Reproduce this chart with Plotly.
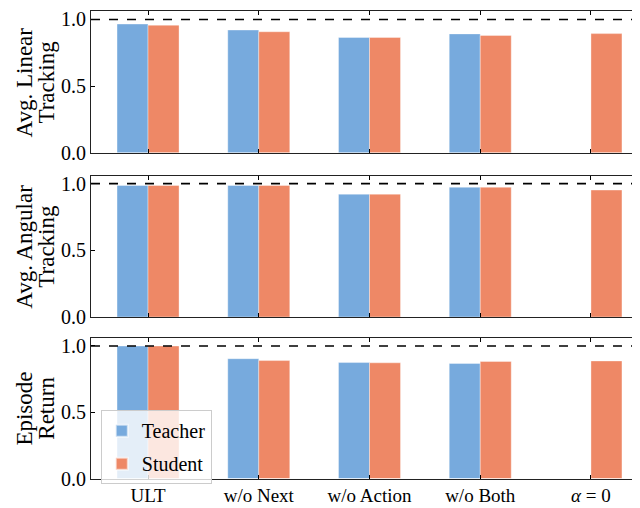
import plotly.graph_objects as go

# ---- data ----
categories = ["ULT", "w/o Next", "w/o Action", "w/o Both", "<i>α</i> = 0"]
series_names = ["Teacher", "Student"]

linear_teacher = [0.966, 0.921, 0.865, 0.892, None]
linear_student = [0.957, 0.908, 0.865, 0.880, 0.894]

angular_teacher = [0.986, 0.986, 0.921, 0.973, None]
angular_student = [0.986, 0.986, 0.921, 0.973, 0.952]

return_teacher = [1.000, 0.904, 0.875, 0.868, None]
return_student = [1.000, 0.890, 0.873, 0.883, 0.887]

panel_titles = [("Avg. Linear", "Tracking"),
                ("Avg. Angular", "Tracking"),
                ("Episode", "Return")]
y_ticks = [0.0, 0.5, 1.0]
y_tick_text = ["0.0", "0.5", "1.0"]
reference_level = 1.0

# ---- styling ----
colors = ["#77AADD", "#EE8866"]
FONT = "Liberation Serif"
x_domain = [0.1297, 0.9948]
y_domains = [[0.713, 0.999], [0.3806, 0.6667], [0.0535, 0.338]]

panels = [(linear_teacher, linear_student),
          (angular_teacher, angular_student),
          (return_teacher, return_student)]

fig = go.Figure()
for i, (teach, stud) in enumerate(panels):
    xa = "x" if i == 0 else f"x{i+1}"
    ya = "y" if i == 0 else f"y{i+1}"
    for name, vals, col in zip(series_names, (teach, stud), colors):
        fig.add_trace(go.Bar(
            x=categories, y=vals, name=name,
            marker=dict(color=col, line=dict(color="rgba(255,255,255,0.6)", width=0.6)),
            xaxis=xa, yaxis=ya, showlegend=(i == 2), legendgroup=name,
        ))
    fig.add_shape(type="line", xref=f"{xa} domain", yref=ya,
                  x0=0, x1=1, y0=reference_level, y1=reference_level,
                  line=dict(color="black", width=1.6, dash="dash"))
    yc = sum(y_domains[i]) / 2
    l1, l2 = panel_titles[i]
    fig.add_annotation(text=l1, xref="paper", yref="paper", x=0.0255, y=yc,
                       textangle=-90, showarrow=False, xanchor="center", yanchor="middle",
                       font=dict(family=FONT, size=23, color="black"))
    fig.add_annotation(text=l2, xref="paper", yref="paper", x=0.0600, y=yc,
                       textangle=-90, showarrow=False, xanchor="center", yanchor="middle",
                       font=dict(family=FONT, size=23, color="black"))

axis_common = dict(showline=True, mirror="ticks", linecolor="#222222", linewidth=1,
                   ticks="inside", ticklen=4, tickwidth=1, tickcolor="black",
                   showgrid=False, zeroline=False,
                   tickfont=dict(family=FONT, size=20, color="black"))

layout = dict(
    width=640, height=508,
    margin=dict(l=0, r=0, t=0, b=0),
    paper_bgcolor="white", plot_bgcolor="white",
    barmode="group", bargap=0.44, bargroupgap=0.0,
    font=dict(family=FONT, color="black"),
    legend=dict(x=0.145, y=0.192, xanchor="left", yanchor="top",
                bgcolor="rgba(255,255,255,0.8)", bordercolor="#cccccc", borderwidth=1,
                font=dict(family=FONT, size=20, color="black"),
                itemsizing="constant", tracegroupgap=4),
)
for i in range(3):
    xk = "xaxis" if i == 0 else f"xaxis{i+1}"
    yk = "yaxis" if i == 0 else f"yaxis{i+1}"
    ya = "y" if i == 0 else f"y{i+1}"
    xa = "x" if i == 0 else f"x{i+1}"
    layout[xk] = dict(axis_common, domain=x_domain, anchor=ya, type="category",
                      range=[-0.515, 4.485], showticklabels=(i == 2),
                      categoryorder="array", categoryarray=categories)
    layout[yk] = dict(axis_common, domain=y_domains[i], anchor=xa,
                      range=[0, 1.06], tickvals=y_ticks, ticktext=y_tick_text)

layout["xaxis3"]["tickfont"] = dict(family=FONT, size=19, color="black")

fig.update_layout(**layout)
fig.write_html("out.html")
